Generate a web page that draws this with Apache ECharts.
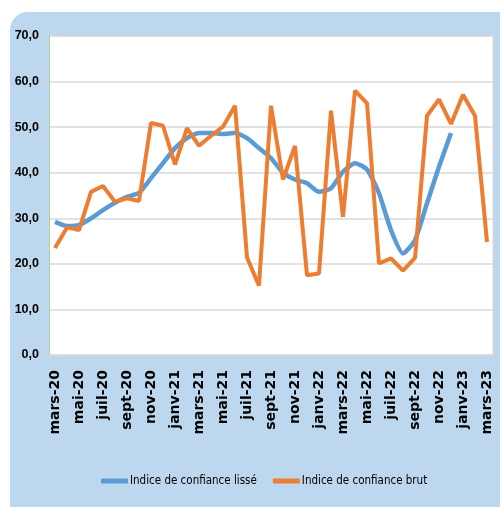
<!DOCTYPE html>
<html>
<head>
<meta charset="utf-8">
<script src="https://cdn.jsdelivr.net/npm/echarts@6/dist/echarts.min.js"></script>
<style>
  html, body { margin: 0; padding: 0; background: #fff; }
  #chart { width: 500px; height: 507px; }
</style>
</head>
<body>
<div id="chart"></div>
<script>
// mois de mars-20 à mars-23
const months = ['janv', 'févr', 'mars', 'avr', 'mai', 'juin', 'juil', 'août', 'sept', 'oct', 'nov', 'déc']
const categories = []
for (let y = 20, m = 2; categories.length < 37; m++) {
  if (m === 12) { m = 0; y++ }
  categories.push(months[m] + '-' + y)
}

// indice lissé (s'arrête en nov-22)
const lisse = [29.2, 28.3, 28.5, 30.0, 31.8, 33.4, 34.7, 35.6, 38.8, 42.1,
  45.4, 47.6, 48.7, 48.7, 48.5, 48.7, 47.6, 45.4, 43.2, 40.0,
  38.5, 37.7, 35.8, 36.6, 40.2, 42.1, 40.7, 35.5, 27.4, 22.3,
  25.2, 33.3, 41.3, 48.7, null, null, null]

// indice brut
const brut = [23.5, 28.0, 27.4, 35.8, 37.1, 33.6, 34.4, 33.8, 50.9, 50.3,
  41.8, 49.8, 45.9, 48.1, 50.1, 54.7, 21.4, 15.2, 54.7, 38.5,
  45.9, 17.5, 17.9, 53.6, 30.3, 58.0, 55.2, 20.1, 21.2, 18.5,
  21.3, 52.5, 56.1, 50.7, 57.1, 52.5, 24.8]

const narrow = "'DejaVu Sans Condensed', 'Liberation Sans', sans-serif"

const chart = echarts.init(document.getElementById('chart'))
chart.setOption({
  backgroundColor: '#ffffff',
  animation: false,
  graphic: [{
    type: 'rect',
    z: -10,
    shape: { x: 10, y: 12, width: 500, height: 510, r: [18, 0, 0, 18] },
    style: { fill: '#bdd7ee' }
  }, {
    type: 'rect',
    z: -9,
    shape: { x: 49, y: 36, width: 444, height: 319 },
    style: { fill: '#ffffff', stroke: '#d9d9d9', lineWidth: 1 }
  }],
  grid: { left: 49, right: 7, top: 36, bottom: 152 },
  legend: {
    left: 96,
    top: 470,
    width: 400,
    icon: 'roundRect',
    itemWidth: 27,
    itemHeight: 5,
    itemGap: 16,
    textStyle: { fontFamily: narrow, fontSize: 11.5, color: '#000', padding: [0, 0, 0, -3] },
    data: ['Indice de confiance lissé', 'Indice de confiance brut']
  },
  xAxis: {
    type: 'category',
    data: categories,
    boundaryGap: true,
    axisLine: { lineStyle: { color: '#d9d9d9' } },
    axisTick: { interval: 1, length: 6, lineStyle: { color: '#d9d9d9' } },
    axisLabel: {
      interval: 1,
      rotate: 90,
      margin: 15,
      fontSize: 14,
      fontWeight: 'bold',
      color: '#000',
      fontFamily: "'DejaVu Sans', sans-serif"
    }
  },
  yAxis: {
    type: 'value',
    min: 0,
    max: 70,
    interval: 10,
    axisLine: { show: true, lineStyle: { color: '#a9d18e' } },
    axisTick: { show: false },
    splitLine: { lineStyle: { color: '#d9d9d9', width: 1.5 } },
    axisLabel: {
      margin: 10,
      fontSize: 12.5,
      fontWeight: 'bold',
      color: '#000',
      fontFamily: "'Liberation Sans', sans-serif",
      formatter: v => v.toFixed(1).replace('.', ',')
    }
  },
  series: [{
    name: 'Indice de confiance lissé',
    type: 'line',
    data: lisse,
    smooth: 0.2,
    showSymbol: false,
    lineStyle: { color: '#5b9bd5', width: 4.5 },
    itemStyle: { color: '#5b9bd5' }
  }, {
    name: 'Indice de confiance brut',
    type: 'line',
    data: brut,
    showSymbol: false,
    lineStyle: { color: '#ed7d31', width: 4 },
    itemStyle: { color: '#ed7d31' }
  }]
})
</script>
</body>
</html>
